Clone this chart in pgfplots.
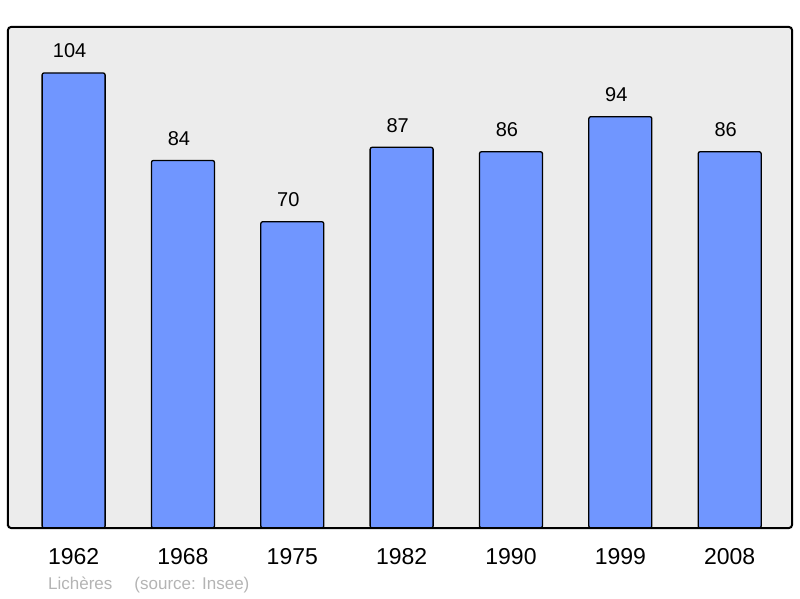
\documentclass[border=0pt]{standalone}
\usepackage{pgfplots}
\pgfplotsset{compat=1.18}
\usepackage{fontspec}
\setmainfont{Liberation Sans}
\definecolor{barblue}{RGB}{112,150,255}
\definecolor{bggray}{RGB}{236,236,236}
\definecolor{capgray}{RGB}{180,180,180}

\begin{document}
\begin{tikzpicture}
\path (0pt,0pt) rectangle (800pt,598pt);
\begin{axis}[
    at={(8pt,70pt)}, anchor=south west,
    scale only axis,
    width=784pt, height=501pt,
    xmin=-0.6, xmax=6.57,
    ymin=0, ymax=114.5,
    /pgf/number format/assume math mode=true,
    axis background/.style={fill=bggray},
    axis line style={line width=2pt, rounded corners=3pt},
    axis on top,
    xtick={0,1,2,3,4,5,6},
    xticklabels={1962,1968,1975,1982,1990,1999,2008},
    ytick=\empty,
    major tick length=0pt,
    xticklabel style={font=\fontsize{23}{25}\selectfont, yshift=-17pt},
    nodes near coords,
    every node near coord/.append style={font=\fontsize{20}{22}\selectfont, yshift=11pt, xshift=-4pt},
]
\addplot[ybar, bar width=63pt, fill=barblue, draw=black, line width=1.3pt, rounded corners=2pt]
coordinates {
    (0,104) (1,84) (2,70) (3,87) (4,86) (5,94) (6,86)
};
\end{axis}
\node[anchor=base west, text=capgray, font=\fontsize{17}{19}\selectfont, inner sep=0pt] at (48pt,9pt) {Lichères\hspace{22pt}(source: Insee)};
\end{tikzpicture}
\end{document}
